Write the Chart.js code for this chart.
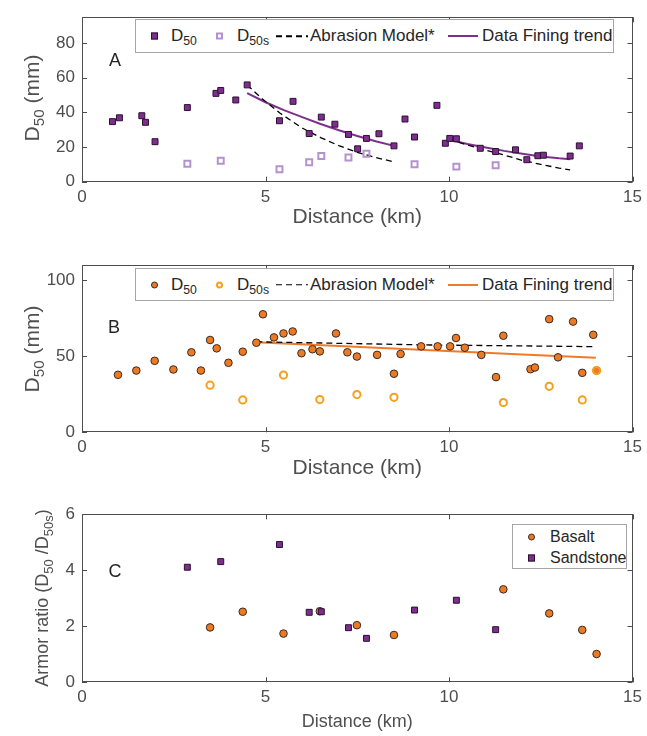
<!DOCTYPE html>
<html>
<head>
<meta charset="utf-8">
<script src="https://cdn.jsdelivr.net/npm/chart.js@4"></script>
<style>
  body { margin: 0; background: #fff; }
  #wrap { position: relative; width: 647px; height: 736px; font-family: 'Liberation Sans', Arial, Helvetica, sans-serif; }
  canvas { position: absolute; left: 0; }
  .ytitle { position: absolute; white-space: nowrap; color: #505050; transform: translate(-50%, -50%) rotate(-90deg); }
  .sub { font-size: 0.72em; position: relative; top: 0.35em; }
  .panel { position: absolute; font-size: 18px; color: #262626; transform: translate(-50%, -50%); }
  .legend { position: absolute; border: 1px solid #a6a6a6; background: #fff; color: #262626; box-sizing: border-box; }
  .legend > span { position: absolute; top: 50%; transform: translateY(-50%); white-space: nowrap; }
  .mk { width: 7px; height: 7px; box-sizing: border-box; }
  .dash { height: 1.5px; background: repeating-linear-gradient(to right, #000 0 6px, transparent 6px 10px); }
</style>
</head>
<body>
<div id="wrap">
  <canvas id="chartA" width="647" height="235" style="top:0"></canvas>
  <canvas id="chartB" width="647" height="245" style="top:240px"></canvas>
  <canvas id="chartC" width="647" height="246" style="top:490px"></canvas>

  <div class="ytitle" style="left:32px;top:98px;font-size:21px">D<span class="sub">50</span> (mm)</div>
  <div class="ytitle" style="left:32px;top:349px;font-size:21px">D<span class="sub">50</span> (mm)</div>
  <div class="ytitle" style="left:42px;top:598px;font-size:18px">Armor ratio (D<span class="sub">50</span> /D<span class="sub">50s</span>)</div>

  <div class="panel" style="left:115px;top:60px">A</div>
  <div class="panel" style="left:114px;top:327px">B</div>
  <div class="panel" style="left:115px;top:571px">C</div>

  <div class="legend" style="left:135px;top:19px;width:479px;height:34px;font-size:17px">
    <span class="mk" style="left:15px;background:#7E2F8E;border:1px solid #2b1030"></span>
    <span style="left:35px">D<span class="sub">50</span></span>
    <span class="mk" style="left:80px;border:2px solid #B592CF"></span>
    <span style="left:101px">D<span class="sub">50s</span></span>
    <span class="dash" style="left:140px;width:32px"></span>
    <span style="left:174px">Abrasion Model*</span>
    <span style="left:312px;width:30px;border-top:2px solid #7E2F8E"></span>
    <span style="left:346px">Data Fining trend</span>
  </div>

  <div class="legend" style="left:135px;top:268px;width:479px;height:33px;font-size:17px">
    <span class="mk" style="left:15px;border-radius:50%;background:#EC7A25;border:1px solid #3a2a20"></span>
    <span style="left:35px">D<span class="sub">50</span></span>
    <span class="mk" style="left:80px;border-radius:50%;border:2px solid #F5A11C"></span>
    <span style="left:101px">D<span class="sub">50s</span></span>
    <span class="dash" style="left:140px;width:32px"></span>
    <span style="left:174px">Abrasion Model*</span>
    <span style="left:312px;width:30px;border-top:2px solid #F07A28"></span>
    <span style="left:346px">Data Fining trend</span>
  </div>

  <div class="legend" style="left:512px;top:524px;width:115px;height:45px;font-size:16px">
    <span class="mk" style="left:15px;top:12px;border-radius:50%;background:#EC7A25;border:1px solid #3a2a20"></span>
    <span style="left:37px;top:12px">Basalt</span>
    <span class="mk" style="left:15px;top:33px;background:#7E2F8E;border:1px solid #2b1030"></span>
    <span style="left:37px;top:33px">Sandstone</span>
  </div>
</div>

<script>
// Panel A - sandstone reach
const aD50Dist = [0.83, 1.02, 1.63, 1.73, 1.99, 2.87, 3.65, 3.78, 4.19, 4.5, 5.38, 5.75, 6.19, 6.52, 6.89, 7.26, 7.51, 7.75, 8.09, 8.5, 8.8, 9.06, 9.67, 9.9, 10.02, 10.2, 10.85, 11.27, 11.81, 12.12, 12.42, 12.57, 13.3, 13.55];
const aD50 = [34.7, 36.9, 38.1, 34.3, 23.1, 42.8, 51, 52.7, 47.2, 55.9, 35.2, 46.4, 27.8, 37.3, 33.2, 27.3, 19, 25, 27.7, 20.7, 36.2, 25.8, 44.1, 22.2, 25, 24.8, 19.3, 17.4, 18.4, 12.7, 15, 15.3, 14.8, 20.7];
const aD50sDist = [2.87, 3.78, 5.38, 6.19, 6.52, 7.26, 7.75, 9.06, 10.2, 11.27];
const aD50s = [10.4, 12.1, 7.2, 11.2, 14.8, 14, 16.1, 10.1, 8.7, 9.5];
const aAbr1Dist = [4.5, 4.9, 5.4, 6.0, 6.5, 7.0, 7.5, 8.0, 8.5];
const aAbr1 = [55.9, 48, 39.5, 31, 25.5, 20.8, 17, 14, 11.4];
const aAbr2Dist = [10.0, 10.5, 11.0, 11.5, 12.0, 12.5, 13.0, 13.3];
const aAbr2 = [24.5, 21.2, 18.2, 15.4, 12.3, 10.0, 7.9, 6.8];
const aFin1Dist = [4.5, 5.0, 5.5, 6.0, 6.5, 7.0, 7.5, 8.0, 8.5];
const aFin1 = [51.1, 45.9, 41.3, 37.3, 33.3, 29.7, 26.4, 23.4, 20.7];
const aFin2Dist = [10.0, 10.5, 11.0, 11.5, 12.0, 12.5, 13.0, 13.3];
const aFin2 = [24.2, 21.8, 19.8, 17.8, 16.1, 14.6, 13.5, 13.0];

// Panel B - basalt reach
const bD50Dist = [0.98, 1.48, 1.98, 2.49, 2.98, 3.24, 3.49, 3.67, 3.99, 4.38, 4.75, 4.93, 5.23, 5.49, 5.74, 5.98, 6.28, 6.48, 6.92, 7.23, 7.49, 8.04, 8.5, 8.68, 9.24, 9.69, 10.03, 10.19, 10.43, 10.88, 11.28, 11.48, 12.22, 12.34, 12.73, 12.97, 13.38, 13.63, 13.93, 14.02];
const bD50 = [37.8, 40.6, 47, 41.3, 52.6, 40.6, 60.7, 55.2, 45.7, 53, 58.9, 77.6, 62.4, 65, 66.3, 52, 54.6, 53.2, 65, 52.6, 49.8, 50.9, 38.5, 51.5, 56.5, 56.5, 56.5, 62, 55.6, 50.9, 36.3, 63.5, 41.5, 42.6, 74.4, 49.3, 72.8, 39.1, 64.1, 40.6];
const bD50sDist = [3.49, 4.38, 5.49, 6.48, 7.49, 8.5, 11.48, 12.73, 13.63, 14.02];
const bD50s = [31, 21.3, 37.6, 21.5, 24.8, 23, 19.6, 30.2, 21.3, 40.6];
const bAbrDist = [4.75, 7.0, 9.5, 12.0, 14.0];
const bAbr = [59.5, 58.5, 57.4, 56.8, 56.3];
const bFinDist = [4.75, 7.0, 9.5, 12.0, 14.0];
const bFin = [59.2, 56.7, 54.0, 51.2, 49.0];

// Panel C - armor ratio
const cBasaltDist = [3.49, 4.38, 5.49, 6.48, 7.49, 8.5, 11.48, 12.73, 13.63, 14.02];
const cBasalt = [1.96, 2.52, 1.74, 2.54, 2.04, 1.69, 3.32, 2.46, 1.87, 1.01];
const cSandDist = [2.87, 3.78, 5.38, 6.19, 6.52, 7.26, 7.75, 9.06, 10.2, 11.27];
const cSand = [4.11, 4.31, 4.92, 2.5, 2.52, 1.95, 1.57, 2.58, 2.93, 1.88];

const xTicks = [0, 5, 10, 15];
const yTicksA = [0, 20, 40, 60, 80];
const yTicksB = [0, 50, 100];
const yTicksC = [0, 2, 4, 6];

const purple = '#7E2F8E';
const orange = '#EC7A25';
const fontFam = "'Liberation Sans', Arial, Helvetica, sans-serif";

function pts(xs, ys) {
    return xs.map((x, i) => ({ x: x, y: ys[i] }));
}

// box round the plot with inward tick marks on all four sides
const boxTicks = {
    id: 'boxTicks',
    beforeDatasetsDraw(chart) {
        const { ctx, chartArea: a, scales: { x, y } } = chart;
        const len = 5;
        ctx.save();
        ctx.strokeStyle = '#4d4d4d';
        ctx.lineWidth = 1;
        ctx.strokeRect(Math.round(a.left) + 0.5, Math.round(a.top) + 0.5, Math.round(a.width) - 1, Math.round(a.height) - 1);
        ctx.beginPath();
        x.ticks.forEach(t => {
            const px = Math.round(x.getPixelForValue(t.value)) + 0.5;
            ctx.moveTo(px, a.bottom); ctx.lineTo(px, a.bottom - len);
            ctx.moveTo(px, a.top); ctx.lineTo(px, a.top + len);
        });
        y.ticks.forEach(t => {
            const py = Math.round(y.getPixelForValue(t.value)) + 0.5;
            ctx.moveTo(a.left, py); ctx.lineTo(a.left + len, py);
            ctx.moveTo(a.right, py); ctx.lineTo(a.right - len, py);
        });
        ctx.stroke();
        ctx.restore();
    }
};

function makeChart(id, datasets, yMax, yTicks, padTop, xAxisH, titleSize, titlePad) {
    return new Chart(document.getElementById(id).getContext('2d'), {
        type: 'scatter',
        data: { datasets: datasets },
        options: {
            responsive: false,
            animation: false,
            layout: { padding: { top: padTop, right: 13, bottom: 0, left: 0 } },
            plugins: { legend: { display: false }, tooltip: { enabled: false } },
            scales: {
                x: {
                    min: 0, max: 15,
                    afterBuildTicks: s => { s.ticks = xTicks.map(v => ({ value: v })); },
                    afterFit: s => { s.height = xAxisH; },
                    grid: { display: false, drawTicks: false },
                    border: { display: false },
                    ticks: { color: '#4d4d4d', padding: 5, font: { family: fontFam, size: 17 } },
                    title: {
                        display: true, text: 'Distance (km)', color: '#505050',
                        font: { family: fontFam, size: titleSize, weight: 'normal' },
                        padding: { top: 0, bottom: titlePad }
                    }
                },
                y: {
                    min: 0, max: yMax,
                    afterBuildTicks: s => { s.ticks = yTicks.map(v => ({ value: v })); },
                    afterFit: s => { s.width = 82; },
                    grid: { display: false, drawTicks: false },
                    border: { display: false },
                    ticks: { color: '#4d4d4d', padding: 7, font: { family: fontFam, size: 17 } }
                }
            }
        },
        plugins: [boxTicks]
    });
}

function lineSet(xs, ys, color, width, dash) {
    return {
        data: pts(xs, ys), showLine: true, pointRadius: 0, fill: false,
        borderColor: color, borderWidth: width, borderDash: dash, order: 3
    };
}

makeChart('chartA', [
    { data: pts(aD50sDist, aD50s), pointStyle: 'rect', pointRadius: 4.2, backgroundColor: 'rgba(0,0,0,0)', borderColor: '#B592CF', borderWidth: 2, order: 0 },
    { data: pts(aD50Dist, aD50), pointStyle: 'rect', pointRadius: 4.2, backgroundColor: purple, borderColor: '#2b1030', borderWidth: 1, order: 1 },
    lineSet(aAbr1Dist, aAbr1, '#000', 1.3, [6, 4]),
    lineSet(aAbr2Dist, aAbr2, '#000', 1.3, [6, 4]),
    lineSet(aFin1Dist, aFin1, purple, 2, []),
    lineSet(aFin2Dist, aFin2, purple, 2, [])
], 95, yTicksA, 15, 53.3, 21, 5);

makeChart('chartB', [
    { data: pts(bD50sDist, bD50s), pointStyle: 'circle', pointRadius: 3.6, backgroundColor: 'rgba(0,0,0,0)', borderColor: '#F5A11C', borderWidth: 2, order: 0 },
    { data: pts(bD50Dist, bD50), pointStyle: 'circle', pointRadius: 3.8, backgroundColor: orange, borderColor: '#3a2a20', borderWidth: 1, order: 1 },
    lineSet(bAbrDist, bAbr, '#000', 1.3, [6, 4]),
    lineSet(bFinDist, bFin, '#F07A28', 2, [])
], 110, yTicksB, 25, 52.7, 21, 4);

makeChart('chartC', [
    { data: pts(cBasaltDist, cBasalt), pointStyle: 'circle', pointRadius: 3.8, backgroundColor: orange, borderColor: '#3a2a20', borderWidth: 1, order: 1 },
    { data: pts(cSandDist, cSand), pointStyle: 'rect', pointRadius: 4.2, backgroundColor: purple, borderColor: '#2b1030', borderWidth: 1, order: 0 }
], 6, yTicksC, 24.3, 53.7, 18, 3);
</script>
</body>
</html>
